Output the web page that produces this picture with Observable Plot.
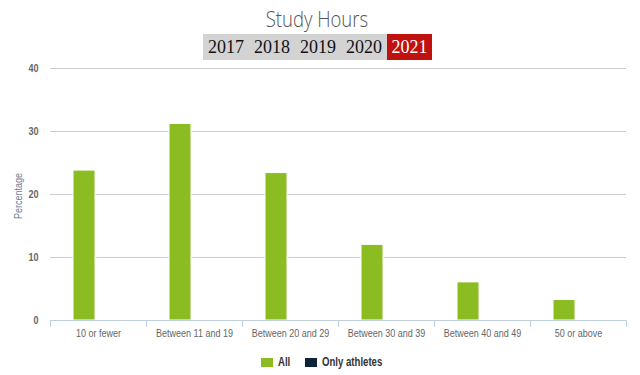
<!DOCTYPE html>
<html>
<head>
<meta charset="utf-8">
<script src="https://cdn.jsdelivr.net/npm/d3@7"></script>
<script src="https://cdn.jsdelivr.net/npm/@observablehq/plot@0.6"></script>
<style>
  html, body { margin: 0; padding: 0; background: #fff; }
  body { width: 640px; height: 375px; position: relative; overflow: hidden; font-family: "Liberation Sans", Arial, sans-serif; }
  #title { position: absolute; left: 0; width: 634px; top: 3px; text-align: center; }
  #title span { display: inline-block; font-family: "Open Sans", sans-serif; font-weight: 300; font-size: 22px; color: #555; transform: scaleX(0.84); }
  #years { position: absolute; top: 34px; left: 203px; height: 26px; display: flex; font-family: "Liberation Serif", "DejaVu Serif", serif; font-size: 18px; line-height: 26px; }
  #years span { display: block; width: 46px; text-align: center; background: #d3d3d3; color: #111; }
  #years span.active { width: 45px; background: #c0110f; color: #fff; }
  #chart { position: absolute; left: 0; top: 60px; }
  #ylabel { position: absolute; left: 18px; top: 196px; transform: translate(-50%, -50%) rotate(-90deg) scaleX(0.82); font-size: 11px; color: #6b7a8f; white-space: nowrap; }
  #legend { position: absolute; top: 355px; left: 0; width: 640px; height: 14px; font-size: 12px; font-weight: bold; color: #333; }
  #legend .sw { position: absolute; top: 3px; width: 12px; height: 9px; }
  #legend .lt { position: absolute; top: 0; line-height: 14px; white-space: nowrap; transform: scaleX(0.8); transform-origin: left center; }
</style>
</head>
<body>
<div id="title"><span></span></div>
<div id="years"></div>
<div id="chart"></div>
<div id="ylabel"></div>
<div id="legend"></div>
<script>
const titleText = "Study Hours";
const years = ["2017", "2018", "2019", "2020", "2021"];
const activeYear = "2021";
const yLabel = "Percentage";
const categories = ["10 or fewer", "Between 11 and 19", "Between 20 and 29", "Between 30 and 39", "Between 40 and 49", "50 or above"];
const series = ["All", "Only athletes"];
const seriesColors = ["#8bbc21", "#0d233a"];
const allValues = [23.8, 31.2, 23.4, 12.0, 6.05, 3.25];
const athleteValues = [null, null, null, null, null, null];
const yTicks = [0, 10, 20, 30, 40];

document.querySelector("#title span").textContent = titleText;
document.getElementById("ylabel").textContent = yLabel;
const yearsDiv = document.getElementById("years");
for (const y of years) {
  const s = document.createElement("span");
  s.textContent = y;
  if (y === activeYear) s.className = "active";
  yearsDiv.appendChild(s);
}
// legend: swatch + label, laid out left to right
const legend = document.getElementById("legend");
const legendX = [261, 305];
series.forEach((s, i) => {
  const sw = document.createElement("span");
  sw.className = "sw";
  sw.style.left = legendX[i] + "px";
  sw.style.background = seriesColors[i];
  legend.appendChild(sw);
  const t = document.createElement("span");
  t.className = "lt";
  t.style.left = (legendX[i] + 17) + "px";
  t.textContent = s;
  legend.appendChild(t);
});

const data = [];
categories.forEach((c, i) => {
  data.push({category: c, series: "All", value: allValues[i]});
  data.push({category: c, series: "Only athletes", value: athleteValues[i]});
});
const barData = data.filter(d => d.value != null);

const plot = Plot.plot({
  width: 640,
  height: 290,
  marginLeft: 50,
  marginRight: 14,
  marginTop: 8,
  marginBottom: 30,
  style: {fontFamily: "'Liberation Sans', Arial, sans-serif", fontSize: "11px", color: "#666", background: "transparent", overflow: "visible"},
  facet: {data: barData, x: "category"},
  fx: {domain: categories, padding: 0, label: null},
  x: {domain: series, paddingInner: 0.2, paddingOuter: 0.77, axis: null},
  y: {domain: [0, 40], label: null},
  color: {domain: series, range: seriesColors},
  marks: [
    Plot.ruleY(yTicks.filter(t => t > 0), {stroke: "#cccccc", strokeWidth: 1}),
    Plot.barY(barData, {x: "series", y: "value", fill: "series", stroke: "white", strokeWidth: 1}),
    Plot.ruleY([0], {stroke: "#C0D0E0", strokeWidth: 1}),
    Plot.axisY({ticks: yTicks, tickSize: 0, tickPadding: 12, fontWeight: "bold", fill: "#666", label: null}),
    Plot.axisFx({anchor: "bottom", tickSize: 0, tickPadding: 9, fill: "#666", label: null})
  ]
});
document.getElementById("chart").appendChild(plot);

// horizontally condense axis tick labels around their anchor point
d3.select(plot).selectAll('g[aria-label="fx-axis tick label"] text, g[aria-label="y-axis tick label"] text').each(function () {
  const bb = this.getBBox();
  const anchor = getComputedStyle(this).textAnchor || this.getAttribute("text-anchor") || this.parentNode.getAttribute("text-anchor");
  const ax = anchor === "end" ? bb.x + bb.width : anchor === "middle" ? bb.x + bb.width / 2 : bb.x;
  const t = this.getAttribute("transform") || "";
  this.setAttribute("transform", `${t} translate(${ax},0) scale(0.82,1) translate(${-ax},0)`);
});

// category boundary ticks drawn from the fx band scale
const fx = plot.scale("fx");
const ys = plot.scale("y");
const bounds = categories.map(c => fx.apply(c));
bounds.push(fx.apply(categories[categories.length - 1]) + fx.bandwidth);
const y0 = ys.apply(0);
d3.select(plot).append("g")
  .selectAll("line").data(bounds).join("line")
  .attr("x1", d => Math.round(d) + 0.5).attr("x2", d => Math.round(d) + 0.5)
  .attr("y1", y0).attr("y2", y0 + 7)
  .attr("stroke", "#C0D0E0");
</script>
</body>
</html>
